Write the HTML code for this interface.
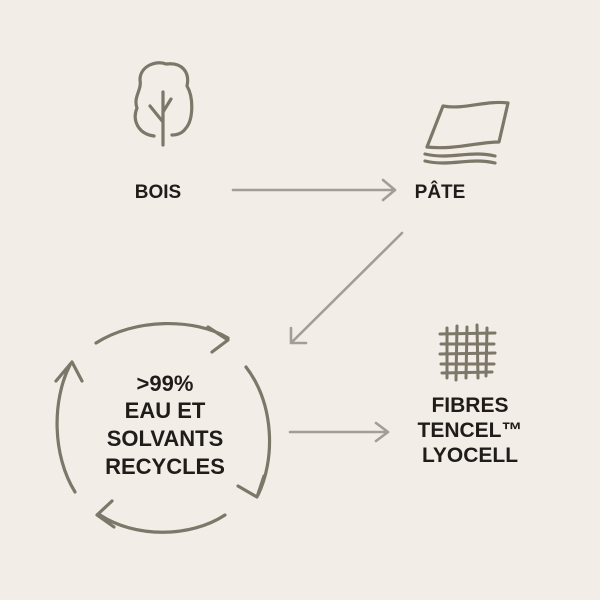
<!DOCTYPE html>
<html><head><style>
html,body{margin:0;padding:0;background:#f2ede7;}
svg{display:block}
text{font-family:"Liberation Sans",sans-serif;font-weight:bold;fill:#1f1c1a;text-anchor:middle}
</style></head><body>
<svg width="600" height="600" viewBox="0 0 600 600">
<rect width="600" height="600" fill="#f2ede7"/>
<g fill="none" stroke="#7c7768" stroke-width="3.2" stroke-linecap="round" stroke-linejoin="round">
<path d="M163 145 V 92 M163 122 L150 106 M163 112 L171 99"/>
<path d="M154 136 C138 134 132 120 137 108 C133 97 142 90 140 80 C140 66 156 60 166 64 C182 62 190 72 187 86 C194 98 193 120 186 128 C182 134 176 135 172 135"/>
<path d="M427 147 L443 106 C465 110 485 100 508 103 L499 142 C478 142 455 150 427 147 Z"/>
<path d="M425 154 C450 160 470 150 495 156 M425 161 C450 167 470 157 495 163"/>
<g stroke-width="3">
<path d="M447 328 L447 378 M457 326 L456 380 M467 327 L466 378 M477 325 L478 378 M487 328 L486 376"/>
<path d="M440 334 L495 333 M441 344 L494 344 M440 354 L495 353 M441 364 L494 364 M442 373 L492 372"/>
</g>
<path d="M96 343 C135 318 195 318 228 338 M208 327 L228 340 L212 352"/>
<path d="M246 367 C275 405 275 460 258 495 M238 486 L257 497 L264 476"/>
<path d="M225 515 C190 538 135 538 100 515 M112 501 L97 515 L114 527"/>
<path d="M75 492 C52 455 52 400 70 365 M56 381 L72 362 L82 381"/>
</g>
<g fill="none" stroke="#a29d98" stroke-width="2.6" stroke-linecap="round" stroke-linejoin="round">
<path d="M233 190 H395 M383 180 L395 190 L383 200"/>
<path d="M402 233 L291 343 M291 328 L291 343 L306 343"/>
<path d="M290 432 H388 M376 423 L388 432 L376 441"/>
</g>
<text x="158" y="198" font-size="19">BOIS</text>
<text x="440" y="198" font-size="19">PÂTE</text>
<text x="165" y="391" font-size="22">&gt;99%</text>
<text x="165" y="418" font-size="22">EAU ET</text>
<text x="165" y="446" font-size="22">SOLVANTS</text>
<text x="165" y="474" font-size="22">RECYCLES</text>
<text x="470" y="412" font-size="21">FIBRES</text>
<text x="470" y="437" font-size="21">TENCEL™</text>
<text x="470" y="462" font-size="21">LYOCELL</text>
</svg>
</body></html>
